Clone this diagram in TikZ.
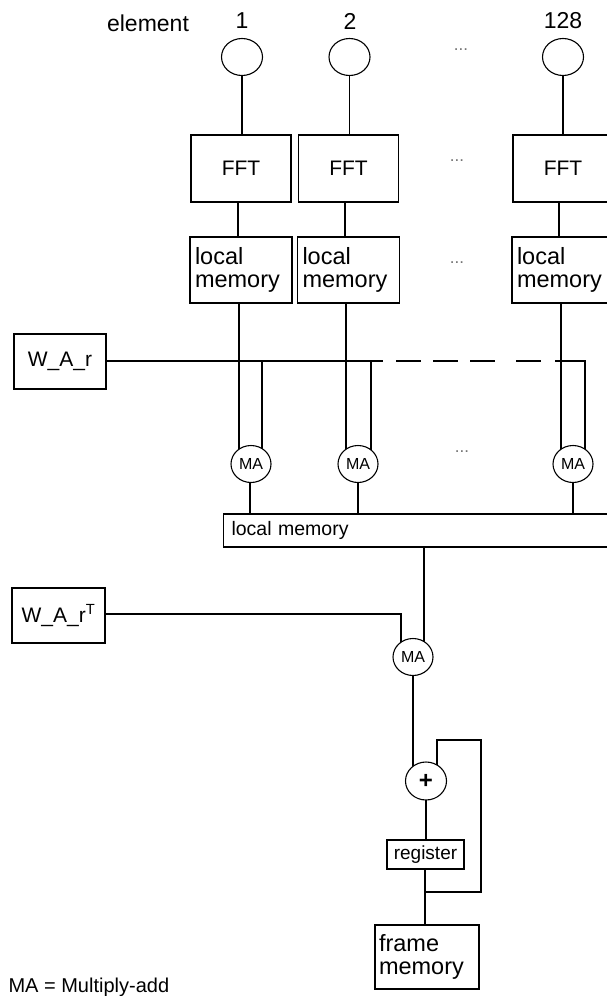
\documentclass[tikz,border=0pt]{standalone}
\usepackage{fontspec}
\setmainfont{Liberation Sans}
\usetikzlibrary{shapes.geometric,backgrounds}
\begin{document}
\begin{tikzpicture}[x=1pt,y=-1pt,line width=1.1pt,
  blk/.style={draw,fill=white,rectangle,inner sep=0pt,minimum width=#1},
  elem/.style={draw,fill=white,ellipse,inner sep=0pt,minimum width=41pt,minimum height=37pt},
  macirc/.style={draw,fill=white,ellipse,inner sep=0pt,minimum width=40pt,minimum height=37pt,font=\fontsize{16}{16}\selectfont},
  big/.style={font=\fontsize{23.5}{26}\selectfont},
  mid/.style={font=\fontsize{21}{24}\selectfont},
  lbl/.style={font=\fontsize{23}{26}\selectfont,inner sep=0pt},
  dotsn/.style={font=\fontsize{17}{17}\selectfont,text=black!55,inner sep=0pt},
  wire/.style={line width=1.1pt}]
\useasboundingbox (0,0) rectangle (607,996);
% top labels
\node[lbl] (elt) at (148,23) {element};
\node[lbl] (n1) at (242,21) {1};
\node[lbl] (n2) at (350,21) {2};
\node[lbl] (n3) at (563,21) {128};
% element circles
\node[elem] (el1) at (242,57) {};
\node[elem] (el2) at (349.5,57) {};
\node[elem] (el3) at (563,57) {};
\node[dotsn] (d1) at (461,50) {...};
% FFT boxes
\node[blk=100pt,minimum height=67pt,mid] (fft1) at (241,168.5) {FFT};
\node[blk=100pt,minimum height=67pt,mid] (fft2) at (348.5,168.5) {FFT};
\node[blk=100pt,minimum height=67pt,mid] (fft3) at (563,168.5) {FFT};
\node[dotsn] (d2) at (457,161) {...};
% local memory boxes
\node[blk=100pt,minimum height=66pt,big,align=left,text width=92pt,inner xsep=5pt] (lm1) at (241,270) {local\\[-3pt]memory};
\node[blk=100pt,minimum height=66pt,big,align=left,text width=92pt,inner xsep=5pt] (lm2) at (348.5,270) {local\\[-3pt]memory};
\node[blk=100pt,minimum height=66pt,big,align=left,text width=92pt,inner xsep=5pt] (lm3) at (563,270) {local\\[-3pt]memory};
\node[dotsn] (d3) at (457,263) {...};
% W_A_r
\node[blk=92pt,minimum height=55pt,mid] (war) at (60,361.5) {W\_A\_r};
\coordinate (bend1) at (383,361);
\coordinate (dstart) at (396,361);
\coordinate (dend) at (555,361);
\coordinate (bcorner) at (585,361);
% MA circles
\node[macirc] (ma1) at (251,464) {MA};
\node[macirc] (ma2) at (358,464) {MA};
\node[macirc] (ma3) at (573,464) {MA};
\node[dotsn] (d4) at (462,452) {...};
% big local memory
\node[blk=400pt,minimum height=33pt,anchor=west,font=\fontsize{19.5}{22}\selectfont,text width=390pt,align=left,inner xsep=8pt] (lmb) at (223,530.5) {local memory};
% W_A_r^T
\node[blk=93pt,minimum height=55pt,mid] (wart) at (58.5,615.5) {W\_A\_r\textsuperscript{T}};
\coordinate (tcorner) at (401,614);
\node[macirc] (ma4) at (413,657) {MA};
% plus
\node[draw,fill=white,ellipse,inner sep=0pt,minimum width=41pt,minimum height=38pt,font=\fontsize{24}{24}\selectfont\bfseries] (plus) at (426,781) {+};
\node[blk=77pt,minimum height=29pt,font=\fontsize{19}{20}\selectfont] (reg) at (425.5,854.5) {register};
\node[blk=104pt,minimum height=64pt,big,align=left,text width=96pt,inner xsep=4pt] (fm) at (427,957) {frame\\[-3pt]memory};
\coordinate (fb1) at (437,740);
\coordinate (fb2) at (481,740);
\coordinate (fb3) at (481,892);
\coordinate (fb4) at (425,892);
% legend
\node[font=\fontsize{20}{22}\selectfont,anchor=base west,inner sep=0pt] (leg) at (8,992) {MA = Multiply-add};
\begin{scope}[on background layer]
  \draw[wire] (el1) -- (el1 |- fft1.north);
  \draw[wire] (el2) -- (el2 |- fft2.north);
  \draw[wire] (el3) -- (el3 |- fft3.north);
  \draw[wire] ([xshift=-3pt]fft1.south) -- ([xshift=-3pt]lm1.north);
  \draw[wire] ([xshift=-3.5pt]fft2.south) -- ([xshift=-3.5pt]lm2.north);
  \draw[wire] ([xshift=-4pt]fft3.south) -- ([xshift=-4pt]lm3.north);
  % bus
  \draw[wire] (war.east |- bend1) -- (bend1);
  \draw[wire,dash pattern=on 25pt off 12pt on 25pt off 12pt on 25pt off 21pt on 25pt off 20pt] (dstart) -- (dend);
  \draw[wire] (dend) -- (bcorner) -- (bcorner |- ma3.center);
  \draw[wire] (262,361) -- (262,464);
  \draw[wire] (371,361) -- (371,464);
  % local memory to MA
  \draw[wire] ([xshift=-2pt]lm1.south) -- ([xshift=-2pt]lm1.south |- ma1.center);
  \draw[wire] ([xshift=-2.5pt]lm2.south) -- ([xshift=-2.5pt]lm2.south |- ma2.center);
  \draw[wire] ([xshift=-2pt]lm3.south) -- ([xshift=-2pt]lm3.south |- ma3.center);
  % MA to big memory
  \draw[wire] ([xshift=-1pt]ma1.center) -- ([xshift=-1pt]ma1.center |- lmb.north);
  \draw[wire] (ma2.center) -- (ma2.center |- lmb.north);
  \draw[wire] (ma3.center) -- (ma3.center |- lmb.north);
  % big memory to MA4
  \draw[wire] (424,547) -- (424,657);
  \draw[wire] (wart.east |- tcorner) -- (tcorner) -- (tcorner |- ma4.center);
  % MA4 to plus
  \draw[wire] (ma4.center) -- (ma4.center |- plus.center);
  \draw[wire] (plus.center) -- (plus.center |- reg.north);
  \draw[wire] (fb1 |- plus.center) -- (fb1) -- (fb2) -- (fb3) -- (fb4);
  \draw[wire] ([xshift=-0.5pt]reg.south) -- ([xshift=-0.5pt]reg.south |- fm.north);
\end{scope}
\end{tikzpicture}
\end{document}
